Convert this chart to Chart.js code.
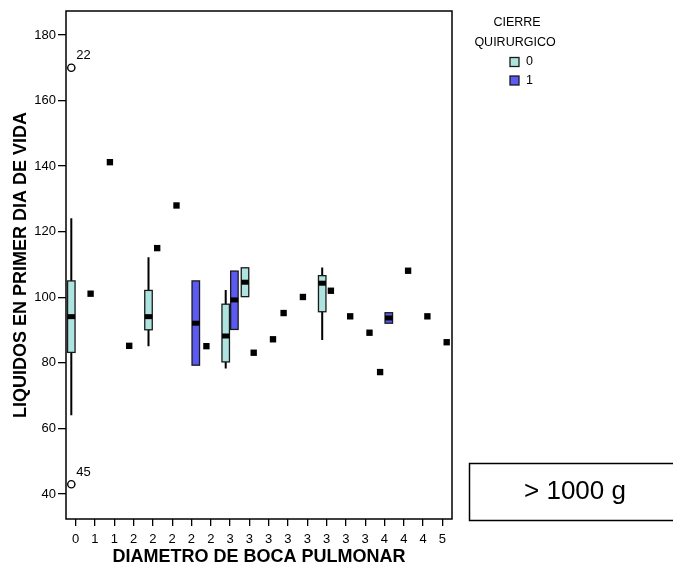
<!DOCTYPE html>
<html><head><meta charset="utf-8">
<script src="https://cdn.jsdelivr.net/npm/chart.js@4"></script>
<style>html,body{margin:0;padding:0;background:#fff;}</style>
</head><body>
<canvas id="c" width="673" height="569"></canvas>
<script>
// ---- data ----
const categories = ['0','1','1','2','2','2','2','2','3','3','3','3','3','3','3','3','4','4','4','5'];
const groupNames = ['0','1'];
const legendTitle = ['CIERRE','QUIRURGICO'];
const yTicks = [40,60,80,100,120,140,160,180];

// box plots (category index, group, five-number summary)
const boxCat    = [0,    4,    8,    9,     13,    6,    8,    16];
const boxGroup  = [0,    0,    0,    0,     0,     1,    1,    1];
const boxMin    = [64,   85.1, 78.3, 100.2, 87,    79.3, 90.2, 92.1];
const boxQ1     = [83.2, 90.1, 80.3, 100.2, 95.6,  79.3, 90.2, 92.1];
const boxMedian = [94.1, 94.1, 88.2, 104.6, 104.3, 92.1, 99.2, 93.7];
const boxQ3     = [105,  102.1,97.9, 109,   106.6, 105,  108,  95.3];
const boxMax    = [124.1,112.2,102.2,109,   109.1, 105,  108,  95.3];

// single-case groups (shown as median markers)
const singleCat   = [1,     2,     3,    4,   5,   7,    9,    10,   11,   12,    13,  14,   15,   16,   17,    18,   19];
const singleGroup = [0,     0,     0,    1,   1,   0,    1,    1,    0,    0,     1,   1,    1,    0,    1,     1,    1];
const singleValue = [101.1, 141.2, 85.2, 115, 128, 85.1, 83.1, 87.2, 95.2, 100.1, 102, 94.2, 89.2, 77.2, 108.1, 94.2, 86.3];

// outliers
const outlierCat   = [0, 0];
const outlierGroup = [0, 0];
const outlierValue = [170, 43];
const outlierLabel = ['22', '45'];

// ---- styling ----
const FONT = "'Liberation Sans', Arial, Helvetica, sans-serif";
const groupColors = ['#ade4df', '#5b5bf3'];
const groupOffset = [-0.225, 0.225];
const BOX_W = 7.5;

const singles = singleCat.map((c,i)=>({x: c + groupOffset[singleGroup[i]], y: singleValue[i]}));
const outliers = outlierCat.map((c,i)=>({x: c + groupOffset[outlierGroup[i]], y: outlierValue[i]}));

const boxPlugin = {
  id: 'boxes',
  beforeDatasetsDraw(chart) {
    const {ctx, scales: {x, y}, chartArea: a} = chart;
    ctx.save();
    // frame
    ctx.strokeStyle = '#000';
    ctx.lineWidth = 1.5;
    ctx.strokeRect(a.left, a.top, a.right - a.left, a.bottom - a.top);
    boxCat.forEach((c, i) => {
      const g = boxGroup[i];
      const cx = x.getPixelForValue(c + groupOffset[g]);
      const h = BOX_W / 2;
      const pMin = y.getPixelForValue(boxMin[i]);
      const pQ1 = y.getPixelForValue(boxQ1[i]);
      const pMed = y.getPixelForValue(boxMedian[i]);
      const pQ3 = y.getPixelForValue(boxQ3[i]);
      const pMax = y.getPixelForValue(boxMax[i]);
      ctx.strokeStyle = '#000';
      ctx.lineWidth = 2;
      ctx.beginPath();
      if (boxMax[i] > boxQ3[i]) { ctx.moveTo(cx, pQ3); ctx.lineTo(cx, pMax); }
      if (boxMin[i] < boxQ1[i]) { ctx.moveTo(cx, pQ1); ctx.lineTo(cx, pMin); }
      ctx.stroke();
      ctx.fillStyle = groupColors[g];
      ctx.fillRect(cx - h, pQ3, 2*h, pQ1 - pQ3);
      ctx.strokeStyle = '#1a1a1a';
      ctx.lineWidth = 1.3;
      ctx.strokeRect(cx - h, pQ3, 2*h, pQ1 - pQ3);
      ctx.fillStyle = '#000';
      ctx.fillRect(cx - h, pMed - 2.5, 2*h, 5);
    });
    ctx.restore();
  },
  afterDraw(chart) {
    const {ctx} = chart;
    ctx.save();
    ctx.fillStyle = '#000';
    // outlier labels
    const meta = chart.getDatasetMeta(1);
    ctx.font = '13px ' + FONT;
    ctx.textAlign = 'left';
    ctx.textBaseline = 'middle';
    meta.data.forEach((pt, i) => {
      ctx.fillText(outlierLabel[i], pt.x + 5, pt.y - 12);
    });
    // legend
    ctx.font = '12.5px ' + FONT;
    ctx.textAlign = 'center';
    ctx.fillText(legendTitle[0], 517, 23);
    ctx.fillText(legendTitle[1], 515, 43);
    groupNames.forEach((n, i) => {
      const yy = 62 + i * 18.5;
      ctx.fillStyle = groupColors[i];
      ctx.fillRect(510, yy - 4.5, 9, 9);
      ctx.strokeStyle = '#1a1a1a';
      ctx.lineWidth = 1.3;
      ctx.strokeRect(510, yy - 4.5, 9, 9);
      ctx.fillStyle = '#000';
      ctx.textAlign = 'left';
      ctx.fillText(n, 526, yy);
    });
    // subset box
    ctx.strokeStyle = '#000';
    ctx.lineWidth = 1.5;
    ctx.strokeRect(469.5, 463.5, 220, 57);
    ctx.font = '26px ' + FONT;
    ctx.textAlign = 'center';
    ctx.textBaseline = 'middle';
    ctx.fillText('> 1000 g', 575, 492);
    ctx.restore();
  }
};

new Chart(document.getElementById('c'), {
  type: 'scatter',
  data: {
    datasets: [
      {label: 'single', data: singles, pointStyle: 'rect', pointRadius: 4.5, pointHoverRadius: 4.5,
       backgroundColor: '#000', borderColor: '#000', borderWidth: 0},
      {label: 'outliers', data: outliers, pointStyle: 'circle', pointRadius: 3.6, pointHoverRadius: 3.6,
       backgroundColor: '#fff', borderColor: '#000', borderWidth: 1.4}
    ]
  },
  options: {
    responsive: false,
    animation: false,
    layout: {padding: {left: 0, right: 221, top: 11, bottom: 0}},
    plugins: {legend: {display: false}, tooltip: {enabled: false}},
    scales: {
      x: {
        type: 'linear', min: -0.5, max: 19.5,
        afterBuildTicks: s => { s.ticks = categories.map((c, i) => ({value: i})); },
        afterFit: s => { s.height = 50; },
        ticks: {callback: v => categories[v], color: '#000', font: {family: FONT, size: 13}, padding: 6,
                maxRotation: 0, autoSkip: false},
        grid: {drawOnChartArea: false, tickLength: 7, color: '#000', lineWidth: 1.3},
        border: {display: false},
        title: {display: true, text: 'DIAMETRO DE BOCA PULMONAR', color: '#000',
                font: {family: FONT, size: 18, weight: 'bold', lineHeight: 1.2}, padding: {top: 0, bottom: 1}}
      },
      y: {
        min: 32.4, max: 187.3,
        afterBuildTicks: s => { s.ticks = yTicks.map(v => ({value: v})); },
        afterFit: s => { s.width = 66; },
        ticks: {color: '#000', font: {family: FONT, size: 13}, padding: 2},
        grid: {drawOnChartArea: false, tickLength: 8, color: '#000', lineWidth: 1.3},
        border: {display: false},
        title: {display: true, text: 'LIQUIDOS EN PRIMER DIA DE VIDA', color: '#000',
                font: {family: FONT, size: 18, weight: 'bold', lineHeight: 1.2}, padding: {top: 10, bottom: 0}}
      }
    }
  },
  plugins: [boxPlugin]
});
</script>
</body></html>
